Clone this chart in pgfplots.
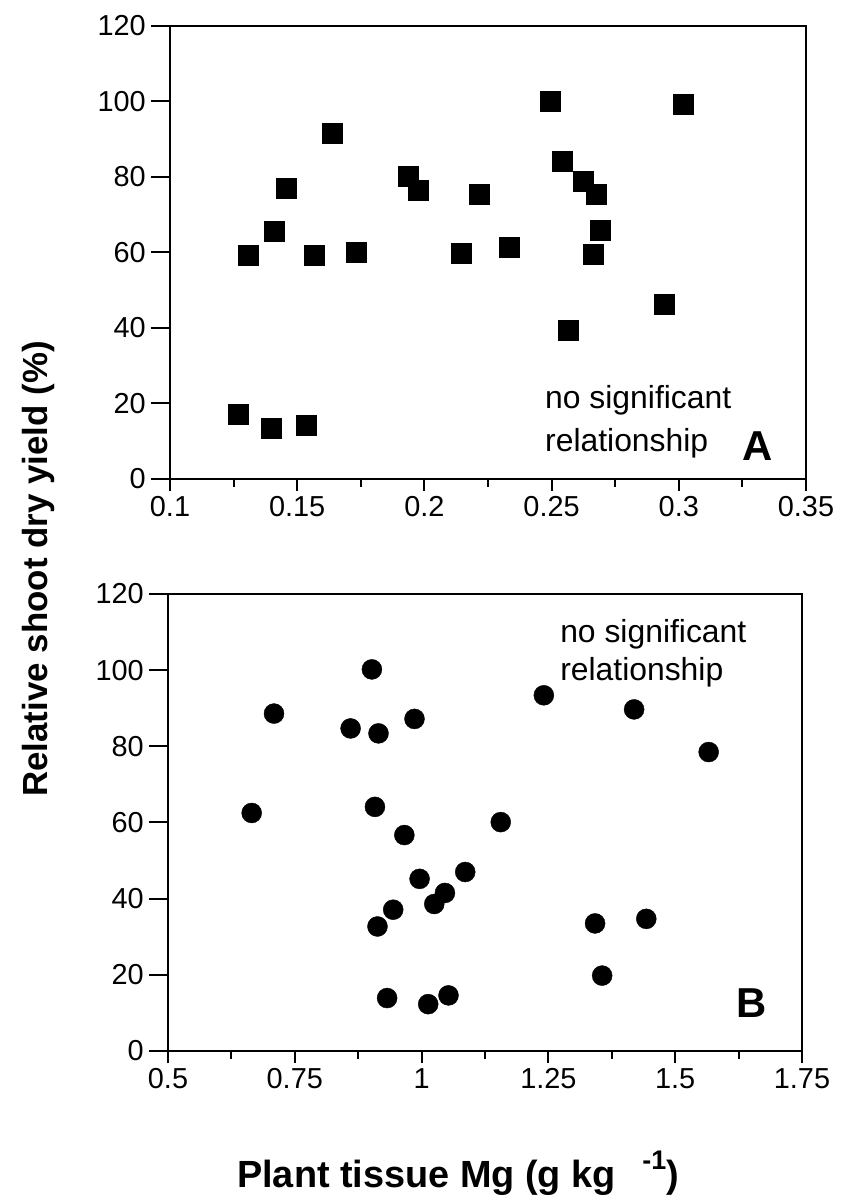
\documentclass[border=0pt]{standalone}
\usepackage{fontspec}
\setmainfont{Liberation Sans}
\usepackage{pgfplots}
\pgfplotsset{compat=1.18}
\pgfplotsset{
  panel/.style={
    scale only axis,
    axis line style={line width=2.6bp},
    tick style={black, line width=2bp},
    major tick length=12bp,
    minor tick length=8bp,
    y tick style={/pgfplots/major tick length=19bp},
    tick align=outside,
    xtick pos=bottom, ytick pos=left,
    ymin=0, ymax=120, ytick={0,20,40,60,80,100,120},
    scaled x ticks=false,
    ticklabel style={font=\fontsize{29}{29}\selectfont},
    /pgf/number format/assume math mode=true,
    xticklabel style={inner sep=2bp, yshift=-3bp},
    yticklabel style={inner sep=2bp, xshift=-10bp},
    clip=false,
  },
}
\tikzset{
  ann/.style={font=\fontsize{32}{32}\selectfont, anchor=base west, inner sep=0pt},
  lett/.style={font=\bfseries\fontsize{42}{42}\selectfont, anchor=base west, inner sep=0pt},
}
\begin{document}
\begin{tikzpicture}
\useasboundingbox (0bp,0bp) rectangle (841bp,1201bp);
% Panel A
\begin{axis}[panel, at={(170bp,722bp)}, anchor=south west, width=636bp, height=453bp,
  xmin=0.1, xmax=0.35, xtick={0.1,0.15,0.2,0.25,0.3,0.35},
  xticklabels={0.1,0.15,0.2,0.25,0.3,0.35}, minor x tick num=1]
\addplot[only marks, mark=square*, mark size=10bp, black] coordinates {
(0.127,17.2) (0.1397,13.5) (0.1535,14.2) (0.2567,39.4) (0.2944,46.3)
(0.1309,59.3) (0.1409,65.7) (0.1456,76.9) (0.1567,59.3) (0.1637,91.6)
(0.173,60.0) (0.1935,80.3) (0.1975,76.6) (0.2146,59.7) (0.2216,75.5)
(0.2333,61.3) (0.2493,100.2) (0.2540,84.3) (0.2625,78.8) (0.2675,75.5)
(0.2690,65.9) (0.2663,59.5) (0.3019,99.2)
};
\node[ann] at (axis cs:0.2474,18.8) {no significant};
\node[ann] at (axis cs:0.2474,7.4) {relationship};
\node[lett] at (axis cs:0.3248,4.8) {A};
\end{axis}
% Panel B
\begin{axis}[panel, at={(168bp,150bp)}, anchor=south west, width=634bp, height=457bp,
  xmin=0.5, xmax=1.75, xtick={0.5,0.75,1,1.25,1.5,1.75},
  xticklabels={0.5,0.75,1,1.25,1.5,1.75}, minor x tick num=1]
\addplot[only marks, mark=*, mark size=10bp, black] coordinates {
(0.665,62.5) (0.908,64.1) (0.966,56.7) (1.156,60.1) (0.996,45.2)
(1.086,47.0) (1.046,41.5) (1.025,38.6) (0.944,37.1) (0.913,32.7)
(1.342,33.5) (1.443,34.7) (1.356,19.8) (0.932,13.9) (1.013,12.3)
(1.053,14.6) (0.902,100.2) (0.709,88.6) (0.860,84.7) (0.915,83.4)
(0.986,87.2) (1.241,93.4) (1.419,89.7) (1.566,78.5)
};
\node[ann] at (axis cs:1.273,107.3) {no significant};
\node[ann] at (axis cs:1.273,97.3) {relationship};
\node[lett] at (axis cs:1.62,8.8) {B};
\end{axis}
\node[rotate=90, font=\bfseries\fontsize{35}{35}\selectfont] at (38bp,632bp) {Relative shoot dry yield (\%)};
\node[font=\bfseries\fontsize{38}{38}\selectfont, anchor=base] at (458bp,14bp) {Plant tissue Mg (g kg\hspace{0.7em}\raisebox{0.45em}{\fontsize{27}{27}\selectfont -1})};
\end{tikzpicture}
\end{document}
